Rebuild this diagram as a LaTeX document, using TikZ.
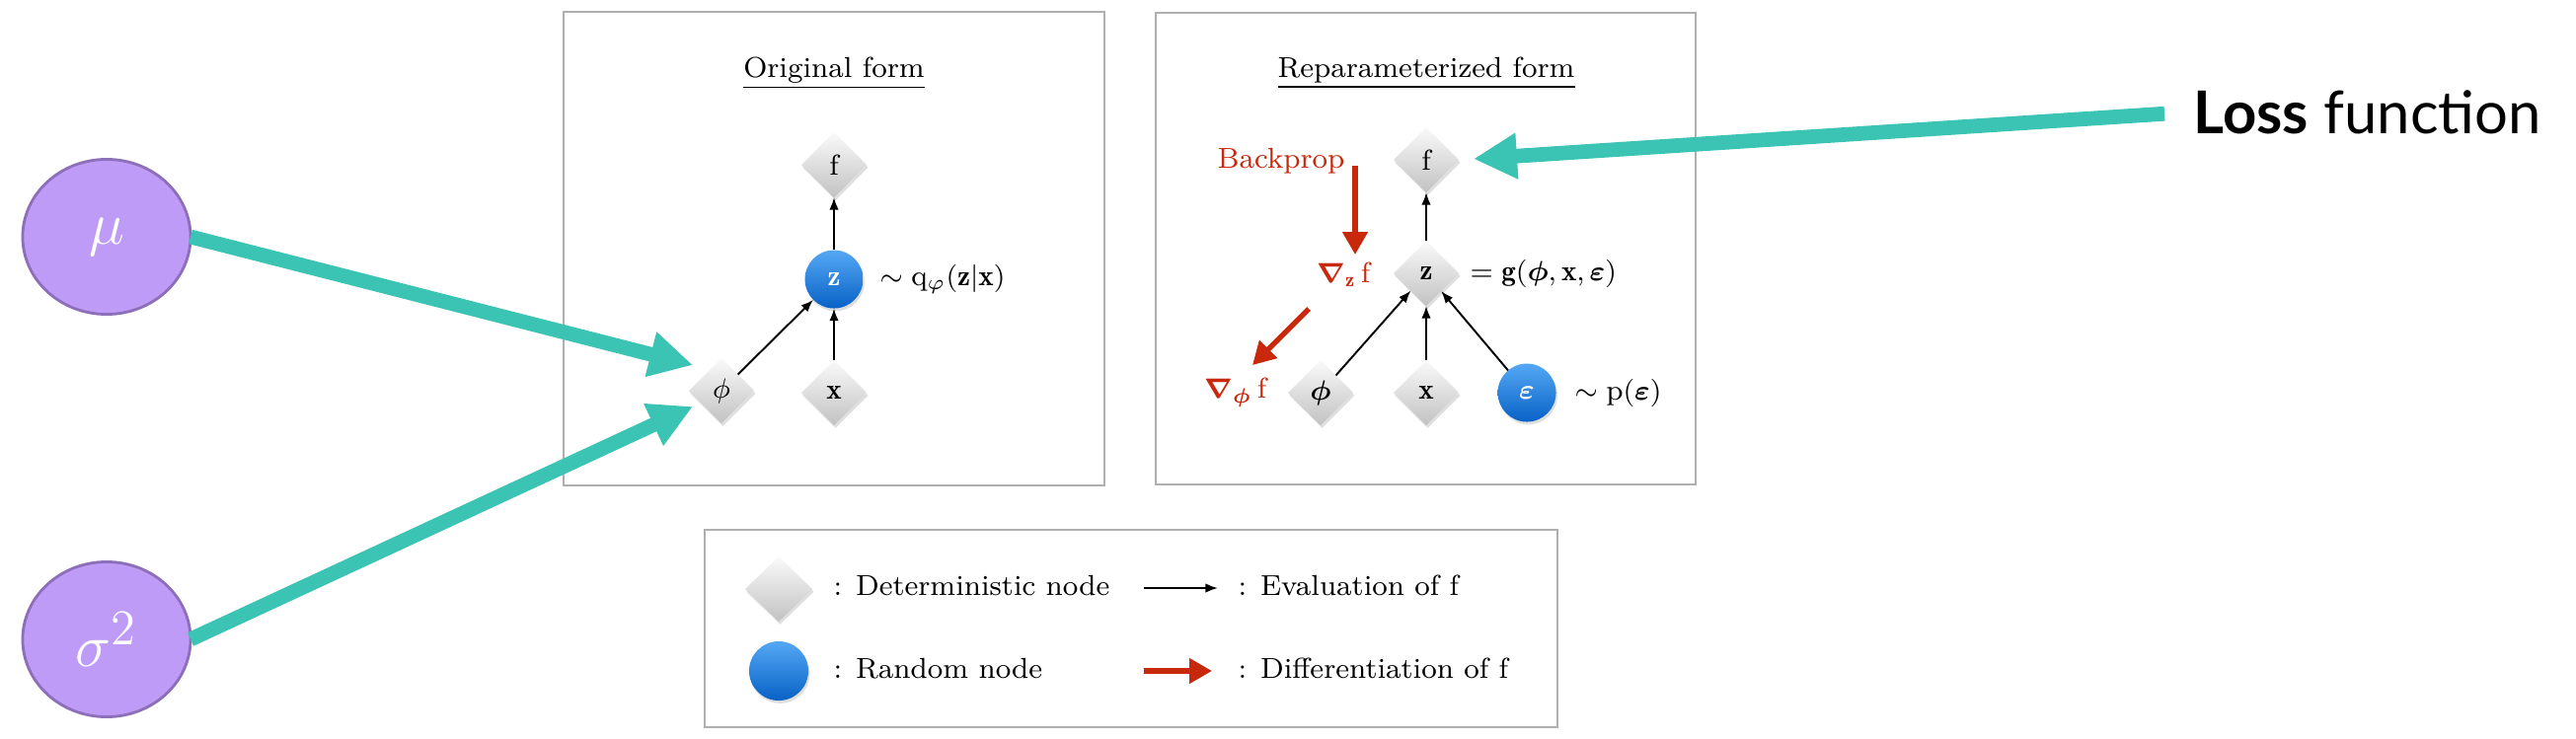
\documentclass[tikz,border=0pt]{standalone}
\usepackage{amsmath}
\usepackage{fontspec}
\usetikzlibrary{shapes.geometric,arrows.meta,shadows}
\newfontfamily\lossfont{Lato}
\definecolor{tealc}{RGB}{59,195,179}
\definecolor{redc}{RGB}{200,40,12}
\definecolor{purpfill}{RGB}{191,155,248}
\definecolor{purpline}{RGB}{140,110,185}
\definecolor{bluetop}{RGB}{85,168,245}
\definecolor{bluebot}{RGB}{8,98,198}
\definecolor{framec}{RGB}{175,175,175}
\newcommand\labfont{\fontsize{8.3}{10}\selectfont}
\begin{document}
\begin{tikzpicture}[x=0.01cm,y=-0.01cm,
  detnode/.style={diamond, aspect=1, minimum width=0.66cm, minimum height=0.66cm,
    inner sep=0pt, outer sep=0pt, top color=gray!4, bottom color=gray!48,
    drop shadow={opacity=0.25,shadow xshift=0.4pt,shadow yshift=-0.8pt}, font=\labfont},
  randnode/.style={circle, minimum size=0.59cm, inner sep=0pt, outer sep=0pt,
    top color=bluetop, bottom color=bluebot, text=white,
    drop shadow={opacity=0.25,shadow xshift=0.4pt,shadow yshift=-0.8pt}, font=\labfont},
  lab/.style={inner sep=0pt, font=\labfont},
  evalarrow/.style={-{Latex[length=3.6pt,width=2.7pt]}, line width=0.55pt},
  diffarrow/.style={-{Triangle[length=6.5pt,width=7pt]}, line width=1.5pt, draw=redc},
  tealarrow/.style={-{Triangle[length=12.5pt,width=12.5pt]}, line width=4.2pt, draw=tealc},
  frame/.style={draw=framec, line width=0.6pt},
  param/.style={ellipse, minimum width=1.7cm, minimum height=1.57cm, inner sep=0pt, outer sep=0pt,
    fill=purpfill, draw=purpline, line width=0.8pt, text=white, font=\fontsize{19}{22}\selectfont}
]
\useasboundingbox (0,0) rectangle (2610,748);

% frames
\draw[frame] (571,12) rectangle (1119,492);
\draw[frame] (1171,13) rectangle (1718,491);
\draw[frame] (714,537) rectangle (1578,737);

% ---------- Original form ----------
\node[lab, anchor=base] (t1) at (845,78) {\underline{Original form}};
\node[detnode] (f1) at (845,167) {f};
\node[randnode] (z1) at (845,283) {$\mathbf{z}$};
\node[detnode] (phi1) at (731,396) {$\phi$};
\node[detnode] (x1) at (845,398) {$\mathbf{x}$};
\node[lab, anchor=west] (q1) at (891,283) {$\sim \mathrm{q}_{\varphi}(\mathbf{z}|\mathbf{x})$};
\draw[evalarrow] (z1) -- (f1);
\draw[evalarrow] (x1) -- (z1);
\draw[evalarrow] (phi1) -- (z1);

% ---------- Reparameterized form ----------
\node[lab, anchor=base] (t2) at (1445,78) {\underline{Reparameterized form}};
\node[detnode] (f2) at (1445,162) {f};
\node[detnode] (z2) at (1445,277) {$\mathbf{z}$};
\node[detnode] (phi2) at (1338,398) {$\boldsymbol{\phi}$};
\node[detnode] (x2) at (1445,398) {$\mathbf{x}$};
\node[randnode] (eps2) at (1547,398) {$\boldsymbol{\varepsilon}$};
\node[lab, anchor=west] (g2) at (1489,277) {$=\mathbf{g}(\boldsymbol{\phi},\mathbf{x},\boldsymbol{\varepsilon})$};
\node[lab, anchor=west] (p2) at (1595,398) {$\sim \mathrm{p}(\boldsymbol{\varepsilon})$};
\node[lab, text=redc] (bp) at (1298,163) {Backprop};
\node[lab, text=redc, anchor=east] (gz) at (1389,278) {$\boldsymbol{\nabla}_{\mathbf{z}}\,\mathrm{f}$};
\node[lab, text=redc, anchor=east] (gphi) at (1284,398) {$\boldsymbol{\nabla}_{\boldsymbol{\phi}}\,\mathrm{f}$};
\draw[evalarrow] (z2) -- (f2);
\draw[evalarrow] (x2) -- (z2);
\draw[evalarrow] (phi2) -- (z2);
\draw[evalarrow] (eps2) -- (z2);
\coordinate (bpS) at (1373,168);
\coordinate (bpE) at (1373,258);
\coordinate (dgS) at (1326,313);
\coordinate (dgE) at (1269,370);
\draw[diffarrow] (bpS) -- (bpE);
\draw[diffarrow] (dgS) -- (dgE);

% ---------- Legend ----------
\node[detnode, minimum width=0.68cm, minimum height=0.66cm] (ld) at (789,597) {};
\node[randnode, minimum size=0.6cm] (lr) at (789,680) {};
\node[lab, anchor=base west] (ldt) at (844,603) {: Deterministic node};
\node[lab, anchor=base west] (lrt) at (844,687) {: Random node};
\node[lab, anchor=base west] (let) at (1254,603) {: Evaluation of f};
\node[lab, anchor=base west] (lft) at (1254,687) {: Differentiation of f};
\coordinate (leS) at (1159,596);
\coordinate (leE) at (1234,596);
\coordinate (lfS) at (1159,680);
\coordinate (lfE) at (1228,680);
\draw[evalarrow] (leS) -- (leE);
\draw[diffarrow] (lfS) -- (lfE);

% ---------- Parameters and loss ----------
\node[param] (mu) at (108,240) {$\mu$};
\node[param] (sig) at (108,648) {$\sigma^2$};
\node[anchor=base west, inner sep=0pt, font=\lossfont\fontsize{17}{20}\selectfont] (loss) at (2222,135) {\textbf{Loss} function};
\coordinate (tipA) at (702,370);
\coordinate (tipB) at (702,412);
\draw[tealarrow] (mu.east) -- (tipA);
\draw[tealarrow] (sig.east) -- (tipB);
\draw[tealarrow, shorten <=0.29cm, shorten >=0.15cm] (loss.west) -- (f2.east);
\end{tikzpicture}
\end{document}
